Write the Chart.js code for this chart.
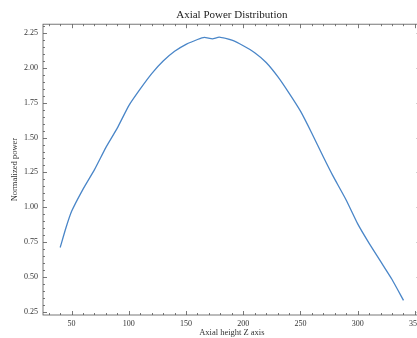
<!DOCTYPE html>
<html>
<head>
<meta charset="utf-8">
<script src="https://cdn.jsdelivr.net/npm/chart.js@4/dist/chart.umd.min.js"></script>
<style>
  html, body { margin: 0; padding: 0; background: #fff; overflow: hidden; }
  #wrap { width: 425px; height: 338px; }
</style>
</head>
<body>
<div id="wrap"><canvas id="powerChart" width="425" height="338"></canvas></div>
<script>
// axial height (cm) and normalized power
const heights = [40, 45, 50, 60, 70, 80, 90, 100, 110, 120, 130, 140, 150, 160, 166, 173, 179,
                 190, 200, 210, 220, 230, 240, 250, 260, 270, 278, 290, 300, 310, 320, 330, 340];
const power = [0.71, 0.85, 0.97, 1.13, 1.27, 1.43, 1.57, 1.73, 1.85, 1.96, 2.05, 2.12, 2.17, 2.205, 2.22, 2.21, 2.222,
               2.20, 2.16, 2.11, 2.04, 1.94, 1.82, 1.69, 1.53, 1.36, 1.23, 1.05, 0.88, 0.74, 0.61, 0.48, 0.33];

const xTicks = [50, 100, 150, 200, 250, 300, 350];
const yTicks = [0.25, 0.50, 0.75, 1.00, 1.25, 1.50, 1.75, 2.00, 2.25];

Chart.defaults.font.family = "'Liberation Serif', 'DejaVu Serif', serif";
Chart.defaults.color = '#333';

// ticks pointing inward on all four sides, like the matplotlib style
const innerTicks = {
    id: 'innerTicks',
    afterDraw(chart) {
        const { ctx, chartArea: a, scales: { x, y } } = chart;
        ctx.save();
        ctx.strokeStyle = '#555';
        ctx.lineWidth = 0.8;
        ctx.strokeRect(a.left, a.top, a.right - a.left, a.bottom - a.top);
        ctx.beginPath();
        for (let v = 30; v <= 355; v += 10) {
            const px = Math.round(x.getPixelForValue(v)) + 0.5;
            const len = v % 50 === 0 ? 4 : 2;
            ctx.moveTo(px, a.bottom); ctx.lineTo(px, a.bottom - len);
            ctx.moveTo(px, a.top); ctx.lineTo(px, a.top + len);
        }
        for (let i = 5; i <= 46; i++) {
            const v = i * 0.05;
            if (v < y.min || v > y.max) continue;
            const py = Math.round(y.getPixelForValue(v)) + 0.5;
            const len = i % 5 === 0 ? 4 : 2;
            ctx.moveTo(a.left, py); ctx.lineTo(a.left + len, py);
            ctx.moveTo(a.right, py); ctx.lineTo(a.right - len, py);
        }
        ctx.stroke();
        ctx.restore();
    }
};

const ctx = document.getElementById('powerChart').getContext('2d');

new Chart(ctx, {
    type: 'line',
    data: {
        datasets: [{
            data: heights.map((h, i) => ({ x: h, y: power[i] })),
            borderColor: '#4a86c8',
            borderWidth: 1.3,
            pointRadius: 0,
            tension: 0.15,
            fill: false
        }]
    },
    options: {
        responsive: false,
        animation: false,
        layout: { padding: { left: 8, right: 4, top: 0, bottom: 0 } },
        plugins: {
            legend: { display: false },
            tooltip: { enabled: false },
            title: {
                display: true,
                fullSize: false,
                text: 'Axial Power Distribution',
                color: '#222',
                font: { size: 11, weight: 'normal' },
                padding: { top: 9, bottom: 2 }
            }
        },
        scales: {
            x: {
                type: 'linear',
                min: 25,
                max: 355,
                afterBuildTicks: s => { s.ticks = xTicks.map(v => ({ value: v })); },
                afterFit: s => { s.height = 23; },
                grid: { display: false, drawTicks: false },
                border: { display: false },
                ticks: { font: { size: 8 }, padding: 4, maxRotation: 0 },
                title: { display: true, text: 'Axial height Z axis', font: { size: 8.5 }, padding: { top: 0, bottom: 0 } }
            },
            y: {
                type: 'linear',
                min: 0.225,
                max: 2.315,
                afterBuildTicks: s => { s.ticks = yTicks.map(v => ({ value: v })); },
                afterFit: s => { s.width = 35; },
                grid: { display: false, drawTicks: false },
                border: { display: false },
                ticks: { font: { size: 8 }, padding: 5, callback: v => v.toFixed(2) },
                title: { display: true, text: 'Normalized power', font: { size: 8.5 }, padding: { top: 2, bottom: 2 } }
            }
        }
    },
    plugins: [innerTicks]
});
</script>
</body>
</html>
